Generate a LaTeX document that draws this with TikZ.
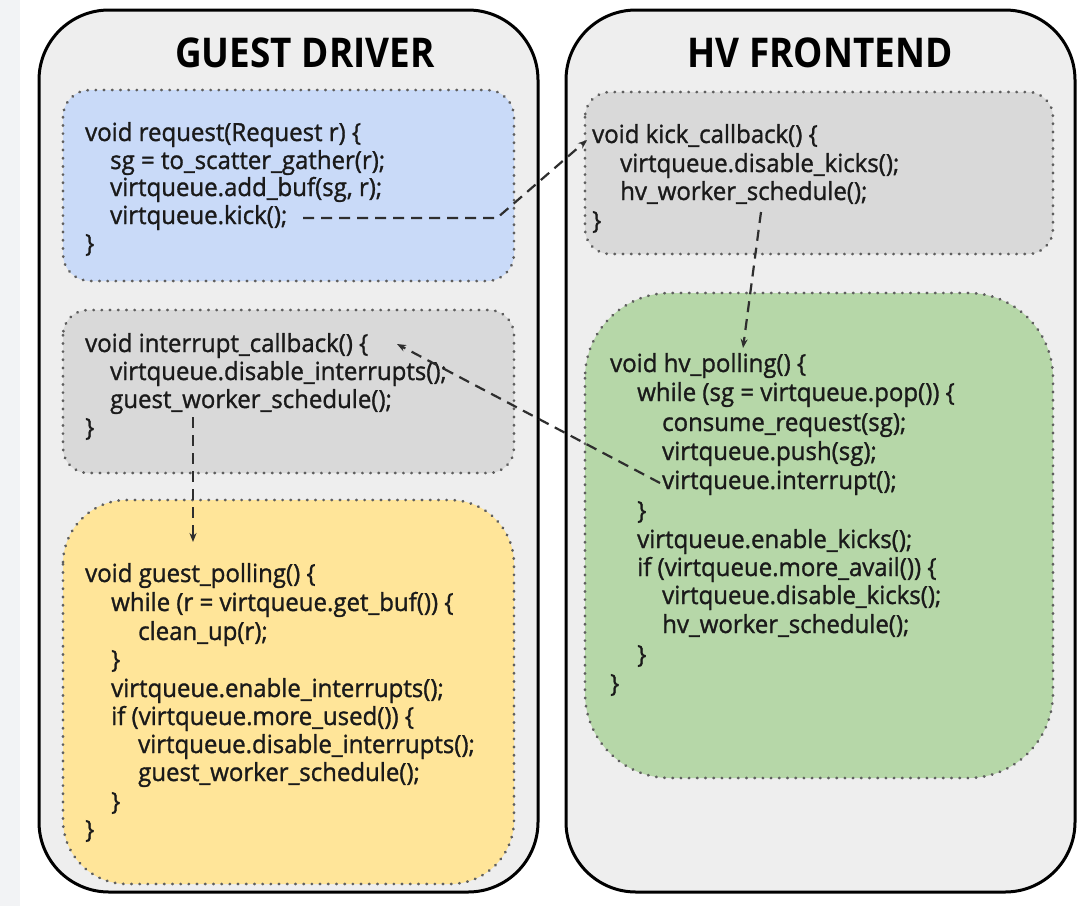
\documentclass[tikz,border=0pt]{standalone}
\usepackage{fontspec}
\setmainfont{Open Sans}
\newfontfamily\codefont{Open Sans}[FakeStretch=0.96, FakeBold=1.2]
\newfontfamily\titlefont{Open Sans}[FakeStretch=0.9]
\usetikzlibrary{arrows.meta}
\definecolor{panelfill}{HTML}{EEEEEE}
\definecolor{bluefill}{HTML}{C9DAF8}
\definecolor{grayfill}{HTML}{D9D9D9}
\definecolor{yellowfill}{HTML}{FFE599}
\definecolor{greenfill}{HTML}{B6D7A8}
\definecolor{dotcol}{HTML}{5E5E5E}
\definecolor{codecol}{HTML}{1A1A1A}
\definecolor{arrowcol}{HTML}{2E2E2E}
\definecolor{stripcol}{HTML}{F2F3F5}
\tikzset{
  panel/.style={draw=black, line width=3pt, fill=panelfill},
  codebox/.style={draw=dotcol, line width=2.8pt, dash pattern=on 0.4pt off 7.8pt, line cap=round},
  code/.style={font=\codefont\fontsize{25}{28}\selectfont, text=codecol, inner sep=0pt, anchor=base west},
  title/.style={font=\titlefont\bfseries\fontsize{41}{46}\selectfont, text=black, inner sep=0pt, anchor=base},
  flow/.style={draw=arrowcol, line width=2.2pt, dash pattern=on 11pt off 7pt, -{Stealth[length=9pt,width=7pt]}}
}
\begin{document}
\begin{tikzpicture}[x=1pt,y=-1pt]
\useasboundingbox (0,0) rectangle (1089,906);
\fill[white] (0,0) rectangle (1089,906);
\fill[stripcol] (0,0) rectangle (20,906);
% panels
\draw[panel, rounded corners=70pt] (39,10) rectangle (538,892);
\draw[panel, rounded corners=70pt] (566,10) rectangle (1075,892);
\node[title] (tgd) at (305,67) {GUEST DRIVER};
\node[title] (thv) at (820,67) {HV FRONTEND};
% boxes
\filldraw[codebox, fill=bluefill, rounded corners=27pt] (63,90) rectangle (514,281);
\filldraw[codebox, fill=grayfill, rounded corners=25pt] (63,310) rectangle (514,473);
\filldraw[codebox, fill=yellowfill, rounded corners=64pt] (63,500) rectangle (514,884);
\filldraw[codebox, fill=grayfill, rounded corners=25pt] (585,92) rectangle (1053,254);
\filldraw[codebox, fill=greenfill, rounded corners=85pt] (585,293) rectangle (1053,778);
% blue box text
\node[code] (b1) at (85,141) {void request(Request r) \{};
\node[code] (b2) at (110,169) {sg = to\_scatter\_gather(r);};
\node[code] (b3) at (110,196) {virtqueue.add\_buf(sg, r);};
\node[code] (b4) at (110,224) {virtqueue.kick();};
\node[code] (b5) at (85,252) {\}};
% interrupt box
\node[code] (i1) at (85,352) {void interrupt\_callback() \{};
\node[code] (i2) at (110,380) {virtqueue.disable\_interrupts();};
\node[code] (i3) at (110,408) {guest\_worker\_schedule();};
\node[code] (i4) at (85,436) {\}};
% yellow box
\node[code] (y1) at (85,582) {void guest\_polling() \{};
\node[code] (y2) at (111,611) {while (r = virtqueue.get\_buf()) \{};
\node[code] (y3) at (138,640) {clean\_up(r);};
\node[code] (y4) at (111,668) {\}};
\node[code] (y5) at (111,697) {virtqueue.enable\_interrupts();};
\node[code] (y6) at (111,725) {if (virtqueue.more\_used()) \{};
\node[code] (y7) at (138,753) {virtqueue.disable\_interrupts();};
\node[code] (y8) at (138,781) {guest\_worker\_schedule();};
\node[code] (y9) at (111,810) {\}};
\node[code] (y10) at (85,838) {\}};
% kick box
\node[code] (k1) at (592,143) {void kick\_callback() \{};
\node[code] (k2) at (620,172) {virtqueue.disable\_kicks();};
\node[code] (k3) at (620,200) {hv\_worker\_schedule();};
\node[code] (k4) at (592,229) {\}};
% green box
\node[code] (g1) at (610,372) {void hv\_polling() \{};
\node[code] (g2) at (637,401) {while (sg = virtqueue.pop()) \{};
\node[code] (g3) at (662,431) {consume\_request(sg);};
\node[code] (g4) at (662,460) {virtqueue.push(sg);};
\node[code] (g5) at (662,489) {virtqueue.interrupt();};
\node[code] (g6) at (637,519) {\}};
\node[code] (g7) at (637,548) {virtqueue.enable\_kicks();};
\node[code] (g8) at (637,576) {if (virtqueue.more\_avail()) \{};
\node[code] (g9) at (662,604) {virtqueue.disable\_kicks();};
\node[code] (g10) at (662,633) {hv\_worker\_schedule();};
\node[code] (g11) at (637,663) {\}};
\node[code] (g12) at (610,692) {\}};
% connectors
\coordinate (a1s) at (303,218);
\coordinate (a1m) at (497,218);
\coordinate (a1e) at (587,140);
\draw[flow] (a1s) -- (a1m) -- (a1e);
\coordinate (a2s) at (761,212);
\coordinate (a2e) at (743,348);
\draw[flow] (a2s) -- (a2e);
\coordinate (a3s) at (660,483);
\coordinate (a3e) at (397,344);
\draw[flow] (a3s) -- (a3e);
\coordinate (a4s) at (193,417);
\coordinate (a4e) at (193,542);
\draw[flow] (a4s) -- (a4e);
\end{tikzpicture}
\end{document}
